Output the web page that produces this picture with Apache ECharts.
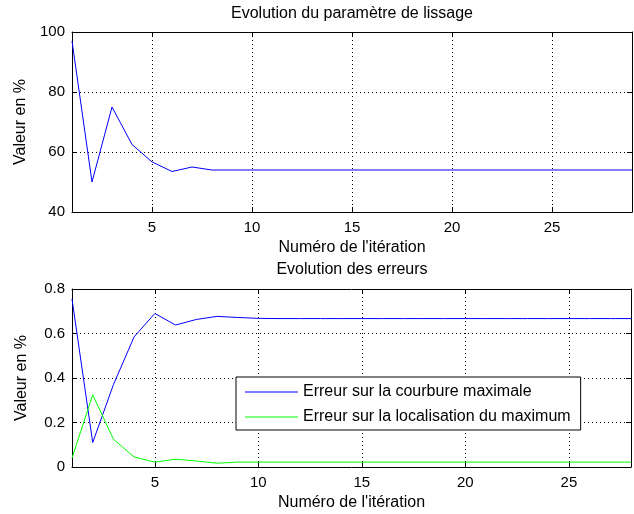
<!DOCTYPE html>
<html>
<head>
<meta charset="utf-8">
<script src="https://cdn.jsdelivr.net/npm/echarts@6/dist/echarts.min.js"></script>
<style>
  html, body { margin: 0; padding: 0; background: #fff; }
  #chart { width: 634px; height: 514px; }
</style>
</head>
<body>
<div id="chart"></div>
<script>
// paramètre de lissage, itérations 1..29
var lissage = [97, 50, 75, 62.5, 56.7, 53.5, 55, 54, 54, 54,
  54, 54, 54, 54, 54, 54, 54, 54, 54, 54,
  54, 54, 54, 54, 54, 54, 54, 54, 54];
// erreurs, itérations 1..28
var erreurCourbure = [0.755, 0.11, 0.37, 0.585, 0.69, 0.638, 0.663, 0.677, 0.672, 0.668,
  0.667, 0.667, 0.667, 0.667, 0.667, 0.667, 0.667, 0.667, 0.667, 0.667,
  0.667, 0.667, 0.667, 0.667, 0.667, 0.667, 0.667, 0.667];
var erreurLocalisation = [0.04, 0.325, 0.125, 0.045, 0.022, 0.035, 0.027, 0.017, 0.022, 0.022,
  0.022, 0.022, 0.022, 0.022, 0.022, 0.022, 0.022, 0.022, 0.022, 0.022,
  0.022, 0.022, 0.022, 0.022, 0.022, 0.022, 0.022, 0.022];
var xTicks = [5, 10, 15, 20, 25];

var FONT = "Liberation Sans";

function pairs(arr) {
  return arr.map(function (v, i) { return [i + 1, v]; });
}

function xAxisFor(gridIndex, max, showLabels) {
  return {
    type: "value",
    gridIndex: gridIndex,
    position: showLabels ? "bottom" : "top",
    min: 1,
    max: max,
    name: showLabels ? "Numéro de l'itération" : "",
    nameLocation: "middle",
    nameGap: 28,
    nameTextStyle: { color: "#000", fontFamily: FONT, fontSize: 16 },
    axisLine: { onZero: false, lineStyle: { color: "#000", width: 1 } },
    axisTick: { show: true, inside: true, length: 5, customValues: xTicks, lineStyle: { color: "#000" } },
    axisLabel: { show: showLabels, customValues: xTicks, margin: 8, color: "#000", fontFamily: FONT, fontSize: 15 },
    splitLine: { show: showLabels, lineStyle: { color: "#000", type: [1, 3], width: 1 } }
  };
}

function yAxisFor(gridIndex, min, max, interval, showLabels) {
  return {
    type: "value",
    gridIndex: gridIndex,
    position: showLabels ? "left" : "right",
    min: min,
    max: max,
    interval: interval,
    name: showLabels ? "Valeur en %" : "",
    nameLocation: "middle",
    nameGap: 42,
    nameTextStyle: { color: "#000", fontFamily: FONT, fontSize: 16 },
    axisLine: { show: true, onZero: false, lineStyle: { color: "#000", width: 1 } },
    axisTick: { show: true, inside: true, length: 5, lineStyle: { color: "#000" } },
    axisLabel: { show: showLabels, margin: 7, color: "#000", fontFamily: FONT, fontSize: 15 },
    splitLine: { show: showLabels, lineStyle: { color: "#000", type: [1, 3], width: 1 } }
  };
}

var chart = echarts.init(document.getElementById("chart"), null, { renderer: "canvas" });

chart.setOption({
  animation: false,
  backgroundColor: "#fff",
  title: [
    {
      text: "Evolution du paramètre de lissage",
      left: 352, top: 6, textAlign: "center", padding: 0,
      textStyle: { color: "#000", fontFamily: FONT, fontSize: 16, fontWeight: "normal" }
    },
    {
      text: "Evolution des erreurs",
      left: 352, top: 262, textAlign: "center", padding: 0,
      textStyle: { color: "#000", fontFamily: FONT, fontSize: 16, fontWeight: "normal" }
    }
  ],
  legend: {
    data: ["Erreur sur la courbure maximale", "Erreur sur la localisation du maximum"],
    orient: "vertical",
    left: 236,
    top: 377,
    padding: [7, 10, 5, 9],
    icon: "rect",
    itemWidth: 53,
    itemHeight: 1,
    itemGap: 9,
    backgroundColor: "#fff",
    borderColor: "#000",
    borderWidth: 1,
    borderRadius: 0,
    textStyle: { color: "#000", fontFamily: FONT, fontSize: 16 }
  },
  grid: [
    { left: 72, top: 32, width: 560, height: 180 },
    { left: 72, top: 289, width: 559, height: 178 }
  ],
  xAxis: [
    xAxisFor(0, 29, true),
    xAxisFor(0, 29, false),
    xAxisFor(1, 28, true),
    xAxisFor(1, 28, false)
  ],
  yAxis: [
    yAxisFor(0, 40, 100, 20, true),
    yAxisFor(0, 40, 100, 20, false),
    yAxisFor(1, 0, 0.8, 0.2, true),
    yAxisFor(1, 0, 0.8, 0.2, false)
  ],
  series: [
    {
      name: "Paramètre de lissage",
      type: "line",
      xAxisIndex: 0, yAxisIndex: 0,
      data: pairs(lissage),
      symbol: "none",
      lineStyle: { color: "#0000ff", width: 1 },
      itemStyle: { color: "#0000ff" }
    },
    {
      name: "Erreur sur la courbure maximale",
      type: "line",
      xAxisIndex: 2, yAxisIndex: 2,
      data: pairs(erreurCourbure),
      symbol: "none",
      lineStyle: { color: "#0000ff", width: 1 },
      itemStyle: { color: "#0000ff" }
    },
    {
      name: "Erreur sur la localisation du maximum",
      type: "line",
      xAxisIndex: 2, yAxisIndex: 2,
      data: pairs(erreurLocalisation),
      symbol: "none",
      lineStyle: { color: "#00ff00", width: 1 },
      itemStyle: { color: "#00ff00" }
    }
  ]
});
</script>
</body>
</html>
